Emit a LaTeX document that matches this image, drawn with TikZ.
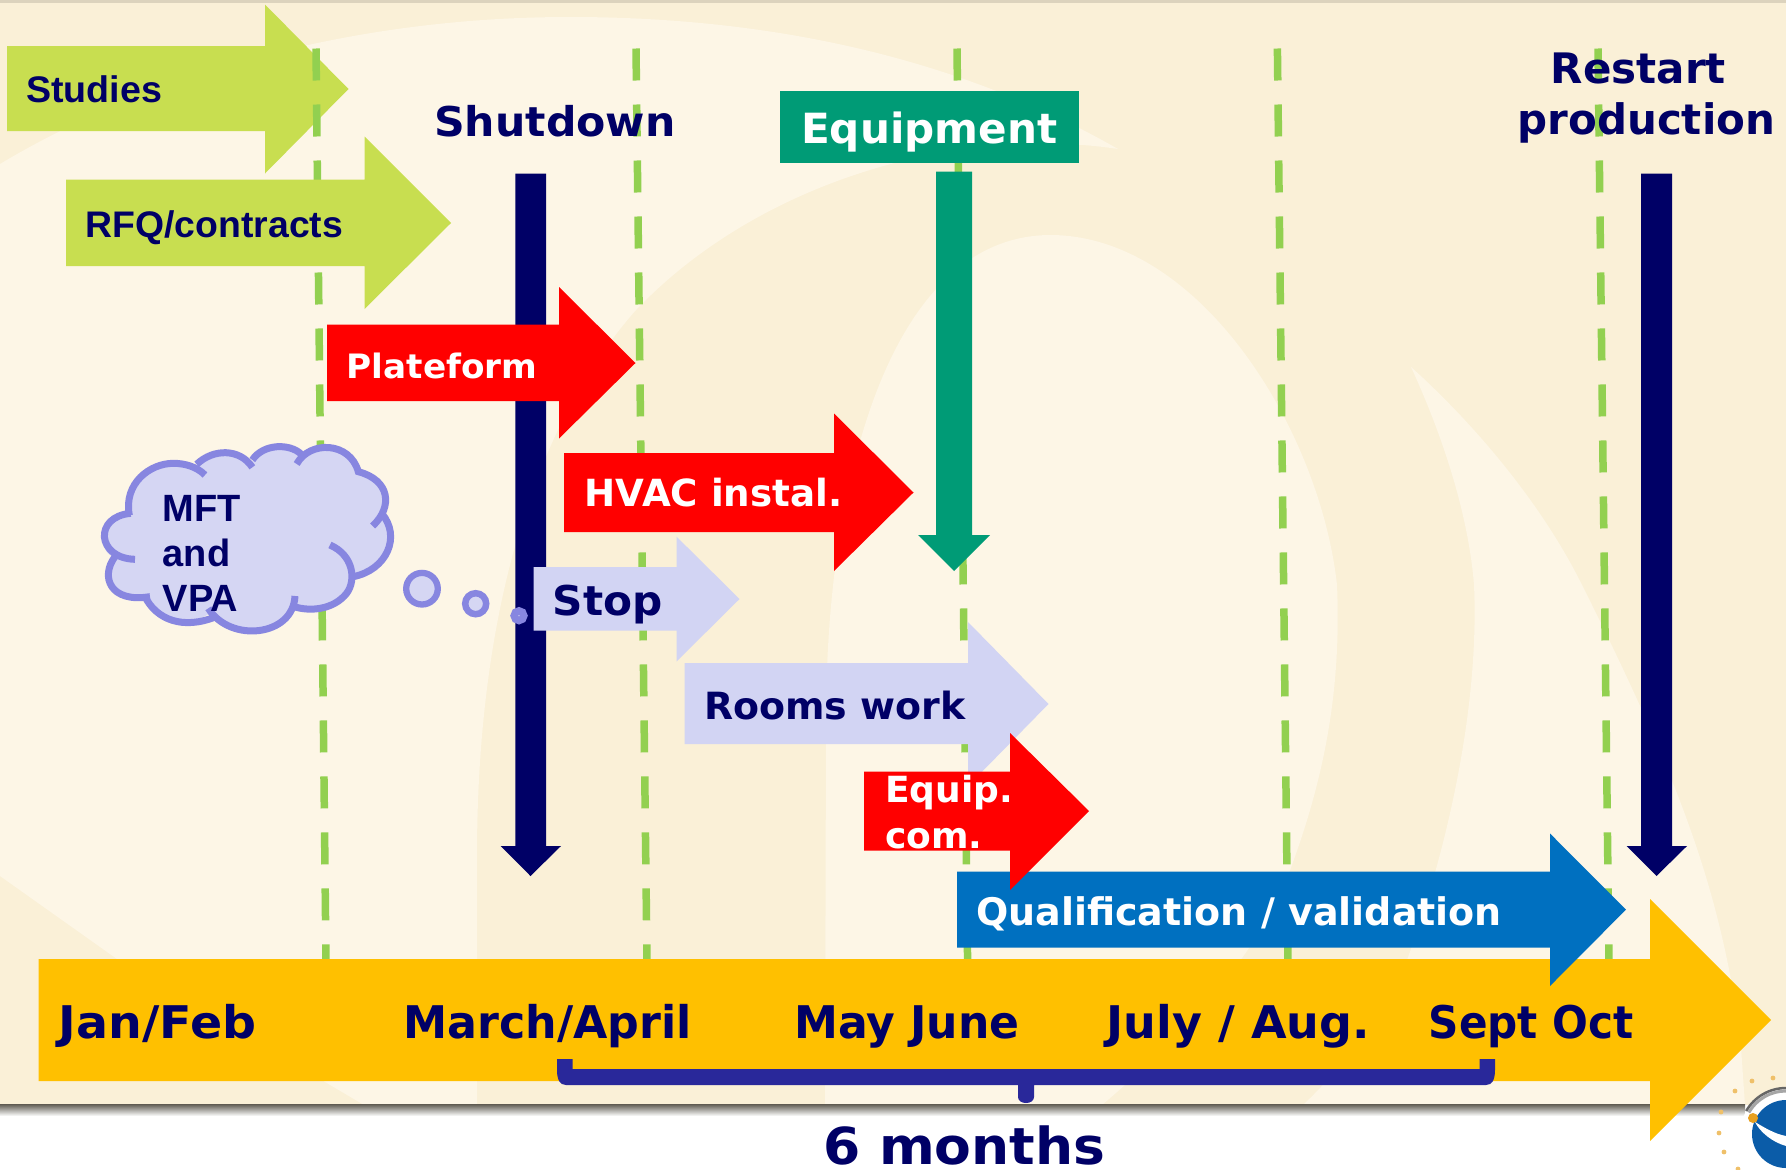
\documentclass[tikz,border=0pt]{standalone}
\usepackage{fontspec}
\setmainfont{DejaVu Sans}
\newfontfamily\libfont{Liberation Sans}
\definecolor{tanbg}{HTML}{FAF0D7}
\definecolor{lightbg}{HTML}{FDF6E6}
\definecolor{navyblue}{HTML}{000066}
\definecolor{dashgreen}{HTML}{92D050}
\definecolor{limefill}{HTML}{C8DE50}
\definecolor{tealfill}{HTML}{009B76}
\definecolor{lav}{HTML}{D2D4F3}
\definecolor{cloudfill}{HTML}{D5D6F3}
\definecolor{cloudline}{HTML}{8786E0}
\definecolor{qualblue}{HTML}{0070C0}
\definecolor{amber}{HTML}{FFC000}
\definecolor{bracketblue}{HTML}{29289A}
\definecolor{logoblue}{HTML}{0B5CA8}
\definecolor{logodot}{HTML}{E8A020}
\newcommand{\hs}[3]{\scalebox{#2}[1]{\fontsize{#1}{#1}\selectfont #3}}
% left, head base, tip, shaft top, shaft bottom, head top, head bottom, tip y
\newcommand{\blockarrow}[9]{\fill[#1] (#2,#5) -- (#3,#5) -- (#3,#7) -- (#4,#9) -- (#3,#8) -- (#3,#6) -- (#2,#6) -- cycle;}
\tikzset{
  dashline/.style={draw=dashgreen,line width=7.5pt,dash pattern=on 32pt off 24pt},
  lbl/.style={inner sep=0pt,anchor=base west,font=\bfseries},
  navytext/.style={lbl,text=navyblue},
  whitetext/.style={lbl,text=white},
  cloudstroke/.style={draw=cloudline,line width=7pt,line cap=butt},
  bubble/.style={draw=cloudline,fill=cloudfill}
}
\begin{document}
\begin{tikzpicture}[x=1pt,y=-1pt]
\useasboundingbox (0,0) rectangle (1786,1170);
% background
\fill[tanbg] (0,0) rectangle (1786,1105);
\fill[black!12!tanbg] (0,0) rectangle (1786,2.5);
\fill[lightbg] (0,164) .. controls (140,80) and (340,17) .. (570,17)
  .. controls (800,17) and (980,70) .. (1118,149)
  .. controls (960,125) and (760,180) .. (636,310)
  .. controls (530,430) and (478,620) .. (477,850)
  -- (477,1105) -- (364,1105) -- (117,959) -- (0,876) -- cycle;
\fill[lightbg] (825,1105) -- (826,720)
  .. controls (826,480) and (890,236) .. (1050,235)
  .. controls (1200,235) and (1320,430) .. (1337,585)
  .. controls (1342,700) and (1320,790) .. (1289,873)
  .. controls (1260,950) and (1190,1030) .. (1102,1105) -- cycle;
\fill[lightbg] (1411,367) .. controls (1440,430) and (1468,510) .. (1474,585)
  .. controls (1480,720) and (1440,870) .. (1407,960)
  .. controls (1380,1020) and (1340,1070) .. (1303,1105)
  -- (1745,1105) -- (1740,1033)
  .. controls (1720,900) and (1690,800) .. (1582,585)
  .. controls (1540,500) and (1470,420) .. (1411,367) -- cycle;
% lower white band and logo
\fill[white] (0,1105) rectangle (1786,1170);
\shade[top color=black!62!tanbg,bottom color=white] (0,1104) rectangle (1745,1116);
\fill[white] (1786,1134) circle[radius=46];
\draw[black!35,line width=3pt] (1786,1091) arc[start angle=-90,end angle=-150,radius=43];
\draw[black!60,line width=2.5pt] (1786,1088) arc[start angle=-90,end angle=-150,radius=46];
\fill[logoblue] (1786,1134) circle[radius=34];
\fill[white] (1755,1122) .. controls (1765,1128) and (1775,1134) .. (1786,1136) -- (1786,1146) .. controls (1772,1142) and (1760,1132) .. (1755,1122) -- cycle;
\fill[logodot] (1753,1118) circle[radius=5];
\foreach \a/\b in {1721/1112,1719/1133,1724/1152,1738/1169,1735/1091,1752/1081,1773/1078}
  \fill[logodot!60!tanbg] (\a,\b) circle[radius=2.4];
% studies arrow lies under the dashes
\blockarrow{limefill}{7}{265}{348.5}{46}{131}{4.5}{173.5}{89}
% dashed month separators
\coordinate (d1a) at (316,48.5); \coordinate (d1b) at (326,962);
\coordinate (d2a) at (636,48.5); \coordinate (d2b) at (647,962);
\coordinate (d3a) at (957,48.5); \coordinate (d3b) at (967.6,962);
\coordinate (d4a) at (1277.4,48.5); \coordinate (d4b) at (1288,962);
\coordinate (d5a) at (1598,48.5); \coordinate (d5b) at (1609,962);
\foreach \n in {1,...,5} \draw[dashline] (d\n a) -- (d\n b);
% vertical arrows
\fill[navyblue] (515.4,173.5) -- (546,173.5) -- (546,846) -- (561,846) -- (530.5,876) -- (500.6,846) -- (515.4,846) -- cycle;
\fill[navyblue] (1641,173.5) -- (1672,173.5) -- (1672,846) -- (1687,846) -- (1656.5,876) -- (1626.5,846) -- (1641,846) -- cycle;
\fill[tealfill] (936,171.6) -- (972,171.6) -- (972,535) -- (990,535) -- (954,571) -- (918,535) -- (936,535) -- cycle;
% timeline
\blockarrow{amber}{38.7}{1650}{1771}{959}{1081}{899}{1141}{1020}
% horizontal arrows
\blockarrow{limefill}{66}{364.5}{451}{179.5}{266}{136.5}{309}{223}
\blockarrow{red}{327}{559}{635.5}{324.6}{401}{287}{438.5}{363}
\blockarrow{red}{564}{834}{913.5}{453}{532}{413.5}{571}{492.5}
\blockarrow{lav}{533.6}{676.5}{739.5}{567}{630.5}{536.6}{661.5}{599}
\blockarrow{lav}{684.5}{968}{1048.5}{663}{744}{622}{786}{704}
\blockarrow{qualblue}{957}{1550}{1626}{871.6}{947.7}{833.5}{986}{909.6}
\blockarrow{red}{864}{1010}{1089}{771.6}{850.7}{733}{890}{811}
% bracket
\fill[bracketblue] (557,1059) -- (572.5,1059) -- (572.5,1069) -- (1479.5,1069) -- (1479.5,1059) -- (1495,1059) -- (1495,1070)
  .. controls (1495,1080) and (1492,1085) .. (1486,1085) -- (1034,1085) -- (1034,1097)
  .. controls (1034,1105) and (1018,1105) .. (1018,1097) -- (1018,1085) -- (566,1085)
  .. controls (560,1085) and (557,1080) .. (557,1070) -- cycle;
% cloud
\begin{scope}[xshift=90pt,yshift=-430pt,x=0.3333pt,y=-0.3333pt]
\fill[cloudfill] (118,250) .. controls (115,170) and (180,100) .. (250,100) .. controls (285,100) and (320,110) .. (345,130)
 -- (320,105) .. controls (370,60) and (450,60) .. (485,105)
 -- (490,85) .. controls (520,40) and (600,40) .. (630,72)
 -- (625,100) .. controls (660,40) and (780,40) .. (805,125)
 .. controls (890,150) and (900,220) .. (850,285)
 -- (875,250) .. controls (930,320) and (880,420) .. (790,440)
 .. controls (800,480) and (740,540) .. (612,530)
 .. controls (600,610) and (430,640) .. (360,550)
 .. controls (280,600) and (200,570) .. (165,505)
 .. controls (70,510) and (40,450) .. (75,380)
 .. controls (30,380) and (10,260) .. (118,250) -- cycle;
\draw[cloudstroke] (118,256) .. controls (100,160) and (180,100) .. (250,100) .. controls (285,100) and (320,110) .. (345,135);
\draw[cloudstroke] (320,103) .. controls (370,55) and (450,55) .. (487,112);
\draw[cloudstroke] (487,90) .. controls (520,40) and (600,40) .. (633,72);
\draw[cloudstroke] (620,102) .. controls (660,30) and (780,35) .. (805,125) .. controls (900,150) and (910,230) .. (848,288);
\draw[cloudstroke] (875,250) .. controls (935,320) and (890,420) .. (790,440);
\draw[cloudstroke] (720,345) .. controls (790,375) and (800,450) .. (770,490) .. controls (730,540) and (660,545) .. (612,530);
\draw[cloudstroke] (615,498) .. controls (610,620) and (420,640) .. (355,535);
\draw[cloudstroke] (378,560) .. controls (280,600) and (200,570) .. (165,500);
\draw[cloudstroke] (180,500) .. controls (60,520) and (30,440) .. (75,380);
\draw[cloudstroke] (135,388) .. controls (20,385) and (10,260) .. (122,250);
\end{scope}
\draw[bubble,line width=6.3pt] (422,588.7) circle[radius=15.8];
\draw[bubble,line width=6.5pt] (475.7,603.7) circle[radius=10.5];
\draw[bubble,line width=7.5pt] (519,615.7) circle[radius=4.8];
% green equipment box
\node[fill=tealfill,minimum width=299pt,minimum height=72pt,inner sep=0pt,anchor=north west] (eqbox) at (780,91) {};
% labels
\node[navytext] (studies) at (26,102.6) {\libfont\hs{37}{1.017}{Studies}};
\node[navytext] (rfq) at (85.5,237) {\libfont\hs{37}{1.01}{RFQ/contracts}};
\node[navytext] (shut) at (434,136) {\hs{41}{1.04}{Shutdown}};
\node[whitetext] (equip) at (801,143) {\hs{41.6}{1.013}{Equipment}};
\node[text=navyblue,inner sep=0pt,anchor=center,align=center,font=\bfseries\fontsize{42}{51}\selectfont] (restart) at (1646.3,98.5) {Restart\hspace*{16pt}\\production};
\node[whitetext] (plat) at (346.5,378) {\hs{33.6}{1.02}{Plateform}};
\node[whitetext] (hvac) at (584.5,506.7) {\hs{37.4}{0.995}{HVAC instal.}};
\node[navytext] (stop) at (552.5,615) {\hs{41}{1.03}{Stop}};
\node[navytext] (rooms) at (704,719.6) {\hs{37.5}{1.01}{Rooms work}};
\node[text=white,inner sep=0pt,anchor=west,align=left,font=\bfseries\fontsize{36}{46}\selectfont] (eqc) at (885,812.5) {Equip.\\com.};
\node[whitetext] (qual) at (976,925) {\hs{38}{1}{Qualification / validation}};
\node[text=navyblue,inner sep=0pt,anchor=west,align=left,font=\bfseries\libfont\fontsize{38}{45}\selectfont] (mft) at (162.5,553) {MFT\\and\\VPA};
\node[navytext] (jan) at (58.6,1038) {\hs{45}{1.055}{Jan/Feb}};
\node[navytext] (mar) at (403.5,1038) {\hs{45}{0.985}{March/April}};
\node[navytext] (may) at (794,1038) {\hs{45}{0.98}{May June}};
\node[navytext] (jul) at (1106.5,1038) {\hs{45}{1.022}{July / Aug.}};
\node[navytext] (sep) at (1428.5,1038) {\hs{45}{0.937}{Sept Oct}};
\node[navytext] (six) at (823,1164) {\hs{51}{1.05}{6 months}};
\end{tikzpicture}
\end{document}
